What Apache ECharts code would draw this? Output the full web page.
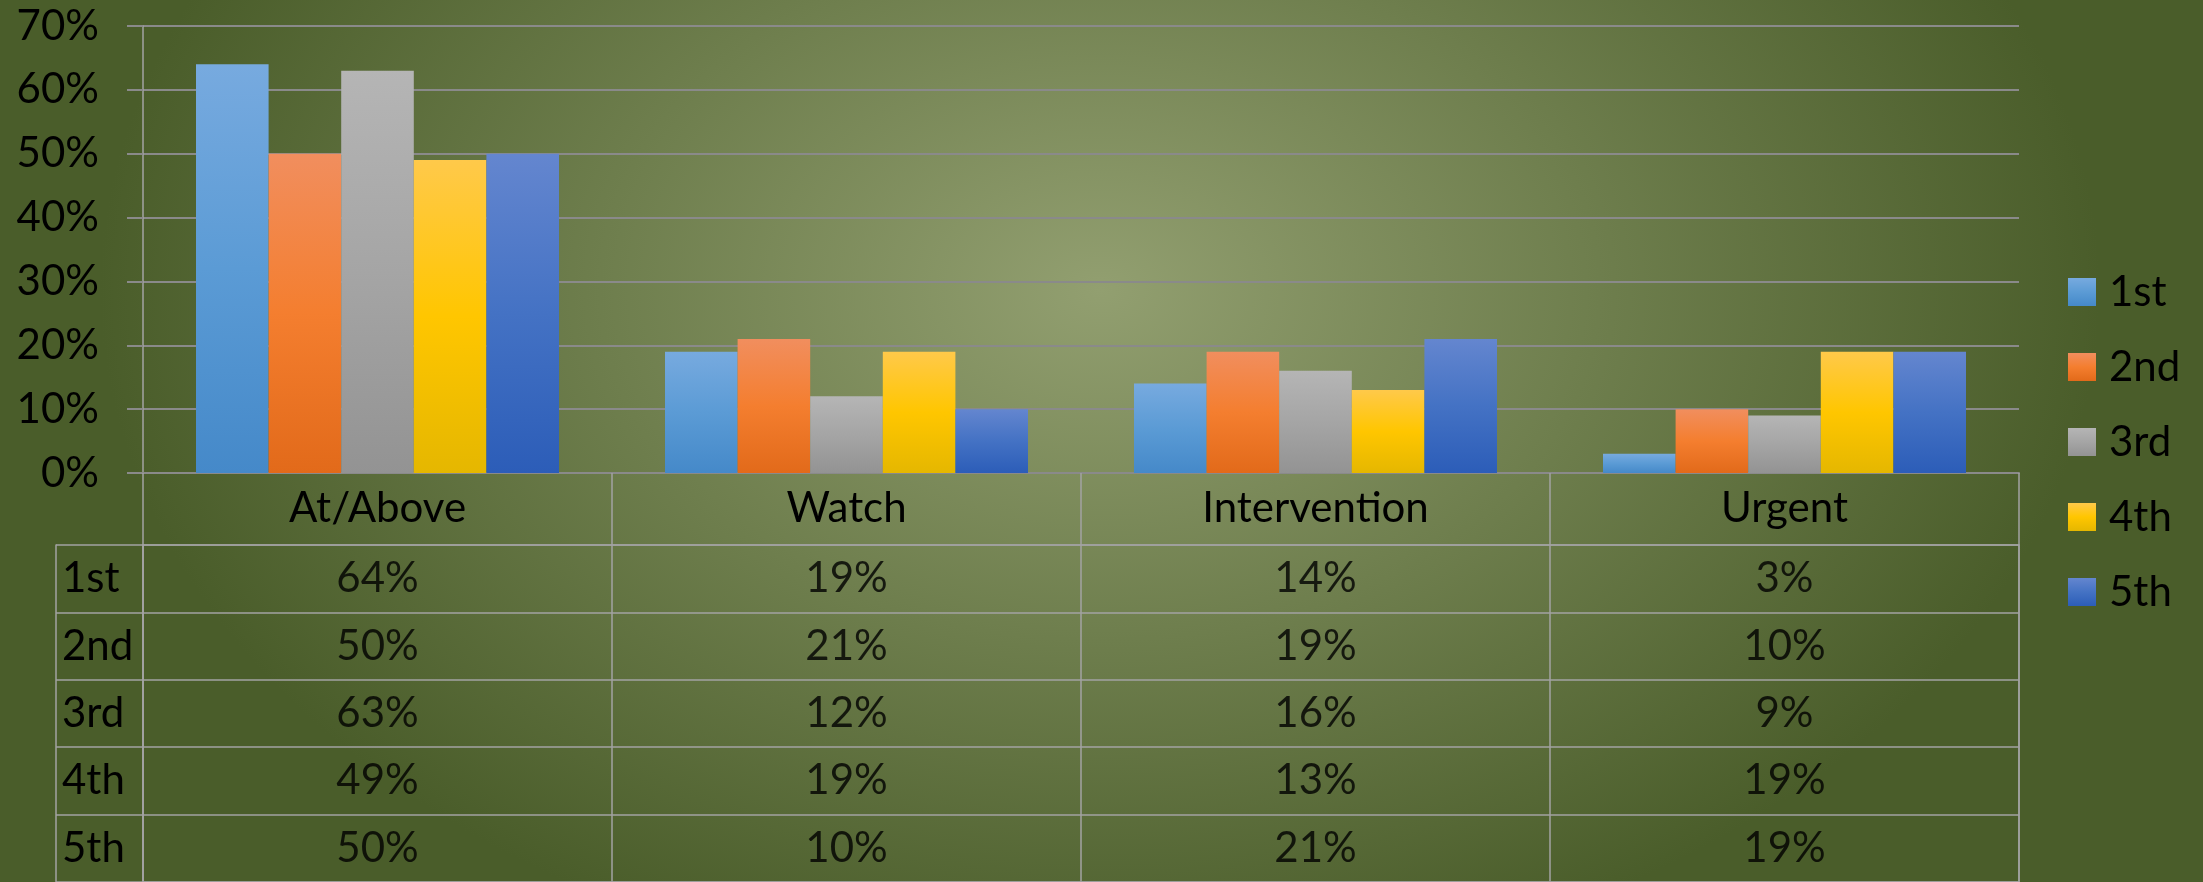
<!DOCTYPE html>
<html>
<head>
<meta charset="utf-8">
<script src="https://cdn.jsdelivr.net/npm/echarts@6/dist/echarts.min.js"></script>
<style>
  html, body { margin: 0; padding: 0; }
  #chart {
    width: 2203px; height: 882px;
    background: radial-gradient(ellipse 1000px 700px at 1100px 290px, #929f70 0%, #4a5d2a 100%);
  }
</style>
</head>
<body>
<div id="chart"></div>
<script>
// categories / grades
const categories = ['At/Above', 'Watch', 'Intervention', 'Urgent']
const grades = ['1st', '2nd', '3rd', '4th', '5th']

// percent values per grade
const v1st = [64, 19, 14, 3]
const v2nd = [50, 21, 19, 10]
const v3rd = [63, 12, 16, 9]
const v4th = [49, 19, 13, 19]
const v5th = [50, 10, 21, 19]
const gradeValues = [v1st, v2nd, v3rd, v4th, v5th]

// y axis range
const yMin = 0
const yMax = 70
const yStep = 10

const FONT = 'Lato'
const FS = 42
const gridColor = '#8a8a8a'
const tableColor = '#a3a3a3'

// office-like gradient per series (top, middle, bottom)
const palette = [
  ['#77aadf', '#5b9bd5', '#4589c9'],
  ['#f18e5e', '#f47e2f', '#e26a1a'],
  ['#b5b5b5', '#a5a5a5', '#939393'],
  ['#ffc94a', '#ffc600', '#e5b700'],
  ['#6486cf', '#4472c4', '#2c5db8']
]
function grad(c) {
  return new echarts.graphic.LinearGradient(0, 0, 0, 1, [
    { offset: 0, color: c[0] },
    { offset: 0.5, color: c[1] },
    { offset: 1, color: c[2] }
  ])
}

const chart = echarts.init(document.getElementById('chart'))

const barSeries = grades.map((g, i) => ({
  name: g,
  type: 'bar',
  xAxisIndex: 0,
  yAxisIndex: 0,
  data: gradeValues[i],
  barGap: '0%',
  barCategoryGap: '22.6%',
  itemStyle: { color: grad(palette[i]) }
}))

// table cells (category index, row index, value)
const cells = []
gradeValues.forEach((row, r) => {
  row.forEach((v, c) => cells.push([c, r, v]))
})

const option = {
  animation: false,
  textStyle: { fontFamily: FONT },
  grid: [
    { left: 143, right: 184, top: 26, bottom: 409 },
    { left: 143, right: 184, top: 545, bottom: 0, show: true, borderColor: tableColor, borderWidth: 1.5, backgroundColor: 'transparent' }
  ],
  legend: {
    orient: 'vertical',
    left: 2063,
    top: 266,
    itemWidth: 28,
    itemHeight: 28,
    itemGap: 33,
    icon: 'rect',
    textStyle: { fontFamily: FONT, fontSize: FS, color: '#000', padding: [0, 0, 0, 8] },
    data: grades
  },
  xAxis: [
    {
      type: 'category',
      gridIndex: 0,
      data: categories,
      axisLine: { show: true, lineStyle: { color: gridColor, width: 2 } },
      axisTick: { show: true, length: 72, lineStyle: { color: tableColor, width: 1.5 } },
      axisLabel: { fontFamily: FONT, fontSize: FS, color: '#000', margin: 14 },
      splitLine: { show: false }
    },
    {
      type: 'category',
      gridIndex: 1,
      data: categories,
      axisLine: { show: false },
      axisTick: { show: false },
      axisLabel: { show: false },
      splitLine: { show: true, interval: 0, lineStyle: { color: tableColor, width: 1.5 } }
    }
  ],
  yAxis: [
    {
      type: 'value',
      gridIndex: 0,
      min: yMin,
      max: yMax,
      interval: yStep,
      axisLine: { show: true, lineStyle: { color: tableColor, width: 1.5 } },
      axisTick: { show: true, length: 16, lineStyle: { color: gridColor, width: 2 } },
      axisLabel: { fontFamily: FONT, fontSize: FS, color: '#000', margin: 44, formatter: '{value}%' },
      splitLine: { show: true, lineStyle: { color: gridColor, width: 2 } }
    },
    {
      type: 'category',
      gridIndex: 1,
      position: 'left',
      data: grades,
      inverse: true,
      axisLine: { show: true, lineStyle: { color: tableColor, width: 1.5 } },
      axisTick: { show: true, length: 87, lineStyle: { color: tableColor, width: 1.5 } },
      axisLabel: { fontFamily: FONT, fontSize: FS, color: '#000', margin: 81, align: 'left' },
      splitLine: { show: true, interval: 0, lineStyle: { color: tableColor, width: 1.5 } }
    },
    {
      type: 'category',
      gridIndex: 1,
      position: 'left',
      data: grades,
      offset: 87,
      axisLine: { show: true, lineStyle: { color: tableColor, width: 1.5 } },
      axisTick: { show: false },
      axisLabel: { show: false },
      splitLine: { show: false }
    }
  ],
  series: barSeries.concat([
    {
      name: 'table',
      type: 'scatter',
      xAxisIndex: 1,
      yAxisIndex: 1,
      symbolSize: 1,
      itemStyle: { color: 'transparent' },
      label: {
        show: true,
        position: 'inside',
        fontFamily: FONT,
        fontSize: FS,
        color: '#000',
        formatter: p => p.value[2] + '%'
      },
      emphasis: { disabled: true },
      data: cells
    }
  ])
}

chart.setOption(option)
</script>
</body>
</html>
